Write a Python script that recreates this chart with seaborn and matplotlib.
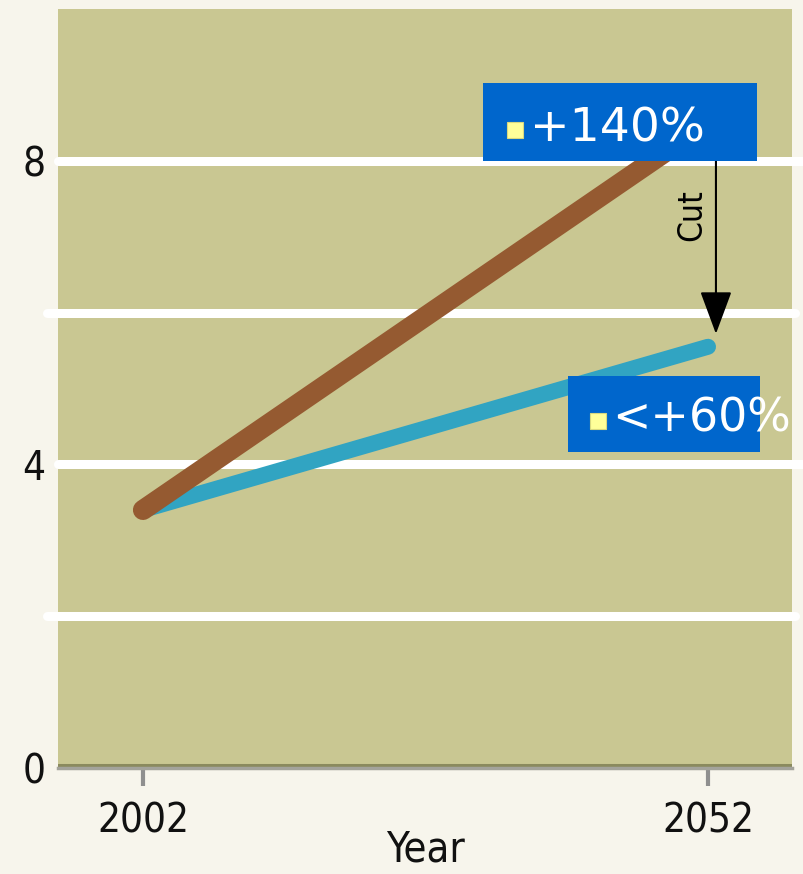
import matplotlib
matplotlib.use("Agg")
import matplotlib.pyplot as plt
import seaborn as sns
import pandas as pd
from matplotlib.patches import Rectangle

# ---- data ----
years = [2002, 2052]
business_as_usual = [3.4, 8.5]     # brown line (+140%)
with_cuts = [3.4, 5.55]            # cyan line (<+60%)
y_ticks = [0, 4, 8]
x_ticks = [2002, 2052]
label_high = "+140%"
label_low = "<+60%"
cut_label = "Cut"
x_label = "Year"

df = pd.concat([
    pd.DataFrame({"Year": years, "value": business_as_usual, "scenario": "bau"}),
    pd.DataFrame({"Year": years, "value": with_cuts, "scenario": "cut"}),
])

sns.set_style("white")
narrow = ["Liberation Sans Narrow", "DejaVu Sans"]

OLIVE = "#c9c792"
CREAM = "#f7f5ec"
BROWN = "#955a31"
CYAN = "#31a4c2"
BLUE = "#0066cc"

W, H = 804, 874
fig = plt.figure(figsize=(W / 100, H / 100), dpi=100, facecolor=CREAM)
ax = fig.add_axes([58 / W, (H - 768) / H, (792 - 58) / W, (768 - 9) / H])
ax.set_facecolor(OLIVE)

ax.set_xlim(1994.48, 2059.43)
ax.set_ylim(0, 10)

# gridlines (white, some extend beyond the axes)
for y in [2, 4, 6, 8]:
    if y in (2, 6):
        x0, x1 = -0.015, 1.004
    else:
        x0, x1 = 0.0, 1.016
    ax.axhline(y, xmin=x0, xmax=x1, color="white", lw=6.5, zorder=1, clip_on=False)

# lines
sns.lineplot(data=df[df.scenario == "cut"], x="Year", y="value", color=CYAN,
             lw=11.5, solid_capstyle="round", ax=ax, zorder=3, legend=False)
sns.lineplot(data=df[df.scenario == "bau"], x="Year", y="value", color=BROWN,
             lw=14.5, solid_capstyle="round", ax=ax, zorder=4, legend=False)

# label boxes
ax.add_patch(Rectangle((2032.1, 8.0), 2056.3 - 2032.1, 9.03 - 8.0,
                       facecolor=BLUE, edgecolor="none", zorder=6))
ax.add_patch(Rectangle((2039.6, 4.16), 2056.6 - 2039.6, 5.16 - 4.16,
                       facecolor=BLUE, edgecolor="none", zorder=6))
ax.plot([2034.9], [8.41], marker="s", ms=11.5, color="#ffff99",
        mec="#d8d880", mew=0.8, zorder=7)
ax.plot([2042.3], [4.57], marker="s", ms=12, color="#ffff99",
        mec="#d8d880", mew=0.8, zorder=7)
ax.text(2036.25, 8.25, label_high, color="white", fontsize=34,
        family="DejaVu Sans", ha="left", va="baseline", zorder=8)
ax.text(2043.5, 4.43, label_low, color="white", fontsize=33,
        family="DejaVu Sans", ha="left", va="baseline", zorder=8, clip_on=False)

# cut arrow
ax.annotate("", xy=(2052.7, 5.72), xytext=(2052.7, 8.0),
            arrowprops=dict(arrowstyle="-|>,head_length=1.35,head_width=0.5",
                            mutation_scale=20, color="black", lw=1.5,
                            shrinkA=0, shrinkB=0), zorder=5)
ax.text(2050.6, 7.28, cut_label, rotation=90, fontsize=24, family=narrow,
        fontstretch="condensed", ha="center", va="center", color="black", zorder=5)

# axes styling
for s in ["top", "right", "left"]:
    ax.spines[s].set_visible(False)
ax.spines["bottom"].set_color("#a3a39b")
ax.spines["bottom"].set_linewidth(2.5)
ax.axhline(0.035, color="#8a8a5e", lw=2.2, zorder=2)

ax.set_xticks(x_ticks)
ax.set_xticklabels([str(x) for x in x_ticks])
ax.set_yticks(y_ticks)
ax.set_yticklabels([str(y) for y in y_ticks])
ax.tick_params(axis="x", length=13, width=3, color="#8f8f8f", pad=11,
               direction="out", bottom=True)
ax.tick_params(axis="y", length=0, pad=9, left=True)
for lab in ax.get_xticklabels() + ax.get_yticklabels():
    lab.set_family(narrow)
    lab.set_fontstretch("condensed")
    lab.set_fontsize(29)
    lab.set_color("#111111")

ax.set_xlabel(x_label, fontsize=30, family=narrow, fontstretch="condensed",
              color="#111111")
ax.set_ylabel("")
ax.xaxis.set_label_coords(0.5, -0.080)
ax.grid(False)

fig.savefig("out.png", dpi=100, facecolor=CREAM)
